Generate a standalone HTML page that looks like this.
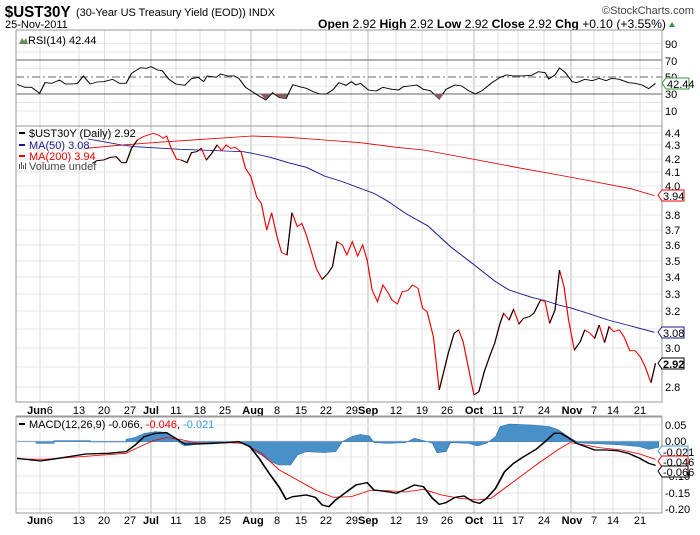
<!DOCTYPE html>
<html><head><meta charset="utf-8"><style>
body{margin:0;background:#fff;width:700px;height:530px;overflow:hidden}
svg text{font-family:"Liberation Sans",sans-serif}
</style></head><body>
<svg width="700" height="530" viewBox="0 0 700 530" xmlns="http://www.w3.org/2000/svg">
<defs>
<g id="vg" stroke-width="1">
<path d="M40 0V1M79 0V1M104.5 0V1M130 0V1M176 0V1M200 0V1M225 0V1M277 0V1M301 0V1M326 0V1M351 0V1M396 0V1M422 0V1M447 0V1M498 0V1M518 0V1M544 0V1M594 0V1M613 0V1M640 0V1" stroke="#ddd"/>
<path d="M151 0V1M251 0V1M368 0V1M474 0V1M571 0V1" stroke="#bbb"/>
</g>
</defs>
<!-- header -->
<text x="5" y="17" font-size="16" font-weight="bold" transform="scale(0.95,1)">$UST30Y</text>
<text x="76" y="16" font-size="11" textLength="199">(30-Year US Treasury Yield (EOD)) INDX</text>
<text x="5" y="28" font-size="11">25-Nov-2011</text>
<text x="602" y="14" font-size="11" fill="#444">©StockCharts.com</text>
<text x="318" y="28" font-size="12" textLength="348" lengthAdjust="spacingAndGlyphs"><tspan font-weight="bold">Open</tspan> 2.92 <tspan font-weight="bold">High</tspan> 2.92 <tspan font-weight="bold">Low</tspan> 2.92 <tspan font-weight="bold">Close</tspan> 2.92 <tspan font-weight="bold">Chg</tspan> +0.10 (+3.55%)</text>
<path d="M669 27l3-5 3 5z" fill="#393"/>

<!-- RSI panel -->
<g>
<g transform="translate(0,30) scale(1,96)"><use href="#vg"/></g>
<path d="M16 43.5H662M16 52H662M16 68.5H662M16 86H662M16 102.5H662M16 111H662" stroke="#e4e4e4"/>
<path d="M16 60H662M16 94H662" stroke="#666"/>
<path d="M16 77H662" stroke="#666" stroke-dasharray="8,3,2,3"/>
<g transform="scale(0.4505,0.3333)">
<polyline fill="none" stroke="#000" stroke-width="2.6" points="38,253 55,262 70,262 88,280 100,248 115,250 132,240 145,252 160,252 172,250 185,228 200,252 215,246 230,245 250,238 265,250 280,250 292,220 312,203 325,205 335,200 350,210 360,212 375,238 390,252 410,256 425,236 440,232 452,245 460,228 480,232 490,222 505,228 520,228 530,235 545,262 560,275 575,288 590,300 605,278 620,293 635,296 650,254 665,260 680,265 695,275 710,282 725,282 740,268 752,248 768,256 780,245 790,255 800,250 818,270 835,273 850,262 870,268 885,270 895,260 910,258 925,255 940,268 955,272 975,297 990,268 1010,255 1025,258 1040,272 1055,282 1070,272 1090,250 1110,232 1125,225 1140,228 1160,228 1180,226 1195,215 1210,218 1218,237 1232,225 1242,204 1255,218 1270,245 1280,248 1298,238 1315,242 1330,235 1345,242 1358,235 1375,238 1395,248 1410,250 1425,255 1440,266 1455,250"/>
<polygon fill="#8b5a5a" points="578,282 590,300 600,282"/>
<polygon fill="#8b5a5a" points="612,282 620,293 635,296 638,282"/>
<polygon fill="#8b5a5a" points="962,282 975,297 985,282"/>
</g>
<rect x="16" y="30" width="646" height="96" fill="none" stroke="#999"/>
<path d="M19 44l3-6 2 3 2-3 2 6z" fill="#6a8a5a"/>
<text x="28" y="44" font-size="11">RSI(14) 42.44</text>
<g font-size="11"><text x="665" y="48">90</text><text x="665" y="65">70</text><text x="665" y="81">50</text><text x="665" y="98">30</text><text x="665" y="115">10</text></g>
<path d="M662 83l4-5h23v11h-23z" fill="#fff" stroke="#393"/>
<text x="667" y="88" font-size="11">42.44</text>
</g>

<!-- main panel -->
<g>
<g transform="translate(0,126) scale(1,276)"><use href="#vg"/></g>
<g stroke="#e4e4e4">
<path d="M16 133H662M16 145H662M16 159H662M16 172H662M16 186H662M16 200H662M16 215H662M16 230H662M16 245H662M16 261H662M16 277H662M16 294H662M16 311H662M16 329H662M16 348H662M16 367H662M16 387H662"/>
</g>
<g transform="translate(0,120) scale(0.4505,0.3333)" fill="none" stroke-width="2.6">
<polyline stroke="#d00" points="190,85 230,80 300,72 350,67 450,58 560,48 640,52 720,60 800,68 880,82 940,90 1000,105 1060,120 1150,143 1240,165 1300,180 1400,206 1453,227"/>
<polyline stroke="#1a1a8c" points="195,57 230,65 270,75 300,80 400,88 500,93 540,95 560,100 600,112 640,128 680,142 720,168 760,185 800,205 830,220 860,243 900,280 950,318 1000,380 1050,432 1100,485 1130,510 1180,532 1210,542 1240,555 1270,565 1300,578 1350,600 1400,618 1453,637"/>
<polyline stroke="#e00" points="205,130 215,122 230,120 245,112 258,110 270,128 280,128 292,85 305,60 318,50 340,40 352,45 362,55 370,48 380,85 392,118 402,120 415,128 425,98 437,95 447,85 458,120 470,100 482,75 492,92 502,75 512,85 522,82 535,95 545,145 557,170 570,232 580,250 592,330 603,278 614,345 625,398 637,405 648,278 660,320 670,310 680,345 690,390 702,445 715,478 728,460 738,440 748,365 760,375 770,405 782,365 794,408 805,375 815,420 826,510 838,545 850,495 860,515 870,540 882,552 893,515 905,512 916,495 928,505 938,565 948,575 962,650 975,810 985,755 995,700 1008,640 1018,630 1028,665 1040,745 1052,825 1063,815 1075,755 1088,705 1098,670 1110,610 1118,580 1130,600 1140,568 1152,612 1162,595 1175,590 1185,580 1200,540 1210,545 1220,610 1232,570 1242,450 1252,500 1262,600 1275,690 1288,665 1298,630 1310,640 1320,655 1330,615 1342,668 1352,620 1362,635 1375,630 1385,650 1398,692 1410,692 1422,712 1432,740 1445,788 1455,730"/>
<g stroke="#000">
<polyline points="205,130 215,122 230,120 245,112 258,110 270,128 280,128 292,85 305,60"/>
<polyline points="402,120 415,128 425,98 437,95 447,85"/><polyline points="458,120 470,100 482,75"/>
<polyline points="637,405 648,278"/><polyline points="715,478 728,460 738,440 748,365"/>
<polyline points="975,810 985,755 995,700 1008,640 1018,630"/>
<polyline points="1052,825 1063,815 1075,755 1088,705 1098,670 1110,610 1118,580"/>
<polyline points="1130,600 1140,568"/><polyline points="1152,612 1162,595 1175,590 1185,580 1200,540"/>
<polyline points="1220,610 1232,570 1242,450"/><polyline points="1275,690 1288,665 1298,630"/>
<polyline points="1320,655 1330,615"/><polyline points="1342,668 1352,620"/>
<polyline points="1445,788 1455,730"/>
</g>
</g>
<rect x="16" y="126" width="646" height="276" fill="none" stroke="#999"/>
<g font-size="11">
<rect x="19" y="132" width="6" height="2" fill="#000"/><text x="29" y="137">$UST30Y (Daily) 2.92</text>
<rect x="19" y="144" width="6" height="2" fill="#1a1a8c"/><text x="29" y="149" fill="#1a1a8c">MA(50) 3.08</text>
<rect x="19" y="155" width="6" height="2" fill="#e00"/><text x="29" y="160" fill="#e00">MA(200) 3.94</text>
<path d="M19 169v-5h1v5zM21 169v-7h1v7zM23 169v-4h1v4zM25 169v-6h1v6z" fill="#555"/><text x="29" y="170" fill="#444">Volume undef</text>
</g>
<g font-size="11">
<text x="665" y="137">4.4</text><text x="665" y="149">4.3</text><text x="665" y="163">4.2</text><text x="665" y="176">4.1</text><text x="665" y="190">4.0</text><text x="665" y="219">3.8</text><text x="665" y="234">3.7</text><text x="665" y="249">3.6</text><text x="665" y="265">3.5</text><text x="665" y="281">3.4</text><text x="665" y="298">3.3</text><text x="665" y="315">3.2</text><text x="665" y="352">3.0</text><text x="665" y="391">2.8</text>
</g>
<path d="M658 195l4-5h22v11h-22z" fill="#fff" stroke="#e00"/><text x="663" y="200" font-size="11">3.94</text>
<path d="M658 332l4-5h22v11h-22z" fill="#fff" stroke="#1a1a8c"/><text x="663" y="337" font-size="11">3.08</text>
<path d="M658 363l4-5h22v11h-22z" fill="#fff" stroke="#000"/><text x="663" y="368" font-size="11" font-weight="bold">2.92</text>
</g>

<!-- x labels -->
<g font-size="11" text-anchor="middle" id="xl">
<text x="40" y="414"><tspan font-weight="bold">Jun</tspan>6</text><text x="79" y="414">13</text><text x="104" y="414">20</text><text x="130" y="414">27</text><text x="151" y="414" font-weight="bold">Jul</text><text x="176" y="414">11</text><text x="200" y="414">18</text><text x="225" y="414">25</text><text x="253" y="414" font-weight="bold">Aug</text><text x="277" y="414">8</text><text x="301" y="414">15</text><text x="326" y="414">22</text><text x="362" y="414">29<tspan font-weight="bold">Sep</tspan></text><text x="396" y="414">12</text><text x="422" y="414">19</text><text x="447" y="414">26</text><text x="474" y="414" font-weight="bold">Oct</text><text x="498" y="414">11</text><text x="518" y="414">17</text><text x="544" y="414">24</text><text x="572" y="414" font-weight="bold">Nov</text><text x="594" y="414">7</text><text x="613" y="414">14</text><text x="640" y="414">21</text>
</g>
<path d="M16 416H662" stroke="#999"/>

<!-- MACD panel -->
<g>
<g transform="translate(0,417) scale(1,96)"><use href="#vg"/></g>
<path d="M16 425H662M16 441H662M16 457H662M16 476H662M16 493H662M16 509H662" stroke="#e4e4e4"/>
<g transform="translate(0,400) scale(0.4505,0.3333)">
<polygon fill="#4a90c8" stroke="#2a6ea8" stroke-width="1.5" points="38,125 80,125 80,130 120,130 120,122 200,122 200,126 280,126 280,118 300,112 320,100 345,95 370,97 385,110 395,125 410,138 440,132 470,132 500,128 540,126 560,150 580,165 600,185 620,195 645,195 660,165 680,155 720,158 745,155 760,125 780,110 800,103 820,108 830,128 860,130 900,128 920,115 940,122 960,130 970,158 990,155 1000,128 1040,130 1060,138 1080,130 1100,110 1110,80 1130,72 1150,73 1180,75 1220,80 1240,90 1262,110 1280,125 1280,128 1300,130 1340,132 1380,135 1420,140 1440,148 1462,142 1462,125 1280,125 1262,125 1100,125 38,125"/>
<polyline fill="none" stroke="#e00" stroke-width="2.4" points="38,177 100,178 180,170 280,160 310,140 340,122 370,113 400,118 440,130 500,128 540,130 580,160 620,210 660,240 700,270 740,292 780,290 820,272 860,272 900,276 940,268 980,285 1020,295 1060,300 1090,295 1120,265 1160,225 1200,185 1240,148 1265,128 1290,133 1330,143 1380,150 1420,162 1455,178"/>
<polyline fill="none" stroke="#000" stroke-width="4" points="38,175 90,183 130,175 190,162 240,160 280,155 300,135 320,110 345,100 370,98 390,115 410,132 440,132 470,130 500,128 530,125 555,140 575,175 600,225 620,262 635,298 650,290 680,285 700,292 715,315 730,320 745,300 770,275 790,255 815,248 830,270 860,275 880,280 900,268 920,255 940,260 960,295 975,313 990,308 1010,292 1030,288 1050,305 1065,310 1080,295 1100,265 1120,215 1140,190 1160,172 1190,148 1210,125 1230,100 1245,100 1260,112 1280,130 1300,140 1320,150 1345,150 1370,152 1395,160 1420,175 1440,190 1455,196"/>
</g>
<rect x="16" y="417" width="646" height="96" fill="none" stroke="#999"/>
<rect x="19" y="423" width="6" height="2" fill="#000"/>
<text x="29" y="428" font-size="11">MACD(12,26,9) -0.066, <tspan fill="#e00">-0.046</tspan>, <tspan fill="#3a9ad9">-0.021</tspan></text>
<g font-size="11"><text x="665" y="429">0.05</text><text x="665" y="445">0.00</text><text x="665" y="480">-0.10</text><text x="665" y="497">-0.15</text><text x="665" y="513">-0.20</text></g>
<path d="M658 451l4-5h26v11h-26z" fill="#fff" stroke="#3a9ad9"/><text x="663" y="456" font-size="11">-0.021</text>
<path d="M658 461l4-5h26v11h-26z" fill="#fff" stroke="#e00"/><text x="663" y="466" font-size="11">-0.046</text>
<path d="M658 471l4-5h26v11h-26z" fill="#fff" stroke="#000"/><text x="663" y="476" font-size="11">-0.066</text>
</g>
<g transform="translate(0,110)"><use href="#xl"/></g>
</svg>
</body></html>
